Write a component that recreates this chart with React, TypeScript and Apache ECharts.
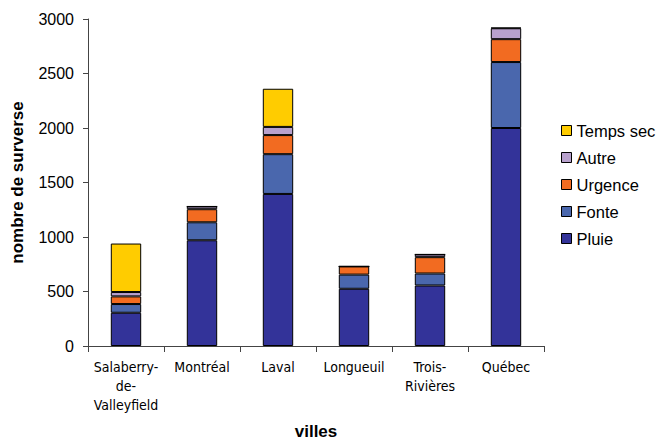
import React, { useEffect, useRef } from "react";
import * as echarts from "echarts";

// Cities (x-axis categories)
const villes = ["Salaberry-\nde-\nValleyfield", "Montréal", "Laval", "Longueuil", "Trois-\nRivières", "Québec"];

// Overflow counts by cause, stacked per city
const pluie = [305, 970, 1395, 525, 555, 2000];
const fonte = [80, 165, 365, 130, 110, 605];
const urgence = [70, 120, 175, 75, 150, 210];
const autre = [40, 25, 75, 0, 25, 100];
const tempsSec = [445, 0, 350, 0, 0, 5];

const yTicks = [0, 500, 1000, 1500, 2000, 2500, 3000];

const seriesDefs = [
  { name: "Pluie", data: pluie, color: "#333399" },
  { name: "Fonte", data: fonte, color: "#4A67AD" },
  { name: "Urgence", data: urgence, color: "#F26B21" },
  { name: "Autre", data: autre, color: "#B8A1CD" },
  { name: "Temps sec", data: tempsSec, color: "#FFCC00" },
];

const FONT = "Liberation Sans, Arial, sans-serif";
const NARROW = "DejaVu Sans Condensed, Liberation Sans, Arial, sans-serif";

export default function App() {
  const ref = useRef<HTMLDivElement>(null);

  useEffect(() => {
    if (!ref.current) return;
    const chart = echarts.init(ref.current, null, { renderer: "svg" });
    chart.setOption({
      animation: false,
      backgroundColor: "#ffffff",
      grid: {
        left: 88,
        right: 117,
        top: 19,
        bottom: 93,
        containLabel: false,
        outerBoundsMode: "none",
      },
      legend: {
        orient: "vertical",
        left: 556,
        top: 117,
        data: ["Temps sec", "Autre", "Urgence", "Fonte", "Pluie"],
        icon: "rect",
        itemWidth: 10,
        itemHeight: 10,
        itemGap: 10,
        textStyle: { fontFamily: FONT, fontSize: 16.5, color: "#000" },
        itemStyle: { borderColor: "#000", borderWidth: 1 },
      },
      // x-axis title
      graphic: [
        {
          type: "text",
          x: 316,
          y: 431,
          style: {
            text: "villes",
            font: `bold 17px ${FONT}`,
            fill: "#000",
            align: "center",
            verticalAlign: "middle",
          },
        },
      ],
      xAxis: {
        type: "category",
        data: villes,
        axisLine: { lineStyle: { color: "#444", width: 1 } },
        axisTick: { show: true, alignWithLabel: false, length: 6, lineStyle: { color: "#444" } },
        axisLabel: {
          interval: 0,
          fontFamily: NARROW,
          fontSize: 14,
          lineHeight: 19,
          color: "#000",
          margin: 11,
        },
      },
      yAxis: {
        type: "value",
        min: yTicks[0],
        max: yTicks[yTicks.length - 1],
        interval: 500,
        name: "nombre de surverse",
        nameLocation: "middle",
        nameGap: 62,
        nameTextStyle: { fontFamily: FONT, fontSize: 17, fontWeight: "bold", color: "#000" },
        axisLine: { show: true, lineStyle: { color: "#444", width: 1 } },
        axisTick: { show: true, length: 5, lineStyle: { color: "#444" } },
        splitLine: { show: false },
        axisLabel: {
          fontFamily: FONT,
          fontSize: 16,
          color: "#000",
          margin: 14,
          formatter: (v: number) => String(v),
        },
      },
      series: seriesDefs.map((s) => ({
        name: s.name,
        type: "bar",
        stack: "total",
        data: s.data,
        barWidth: "40%",
        itemStyle: { color: s.color, borderColor: "#000", borderWidth: 1 },
      })),
    });
    return () => chart.dispose();
  }, []);

  return (
    <div
      ref={ref}
      style={{ position: "absolute", left: 0, top: 0, width: 661, height: 439 }}
    />
  );
}
